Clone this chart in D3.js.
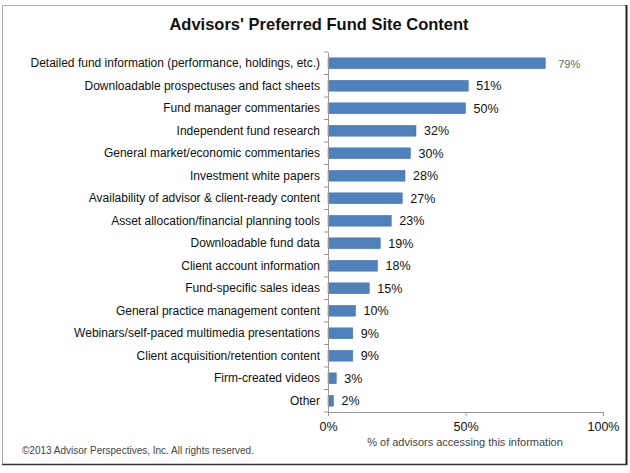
<!DOCTYPE html>
<html><head><meta charset="utf-8">
<script src="https://cdn.jsdelivr.net/npm/d3@7"></script>
<style>body{margin:0;background:#fff;}svg{display:block;font-family:"Liberation Sans",Arial,sans-serif;}</style>
</head><body>
<script>
const categories = [
  "Detailed fund information (performance, holdings, etc.)",
  "Downloadable prospectuses and fact sheets",
  "Fund manager commentaries",
  "Independent fund research",
  "General market/economic commentaries",
  "Investment white papers",
  "Availability of advisor & client-ready content",
  "Asset allocation/financial planning tools",
  "Downloadable fund data",
  "Client account information",
  "Fund-specific sales ideas",
  "General practice management content",
  "Webinars/self-paced multimedia presentations",
  "Client acquisition/retention content",
  "Firm-created videos",
  "Other"
];
const values = [79, 51, 50, 32, 30, 28, 27, 23, 19, 18, 15, 10, 9, 9, 3, 2];
const tickValues = [0, 50, 100];
const tickLabels = ["0%", "50%", "100%"];

const W = 630, H = 473;
const svg = d3.select("body").append("svg").attr("width", W).attr("height", H);

// frame
svg.append("rect").attr("x", 2.5).attr("y", 5.5).attr("width", 624).attr("height", 459)
  .attr("fill", "#fff").attr("stroke", "#555").attr("stroke-width", 1).attr("stroke-dasharray", "1,1");
svg.append("line").attr("x1", 626.5).attr("x2", 626.5).attr("y1", 5).attr("y2", 465).attr("stroke", "#222").attr("stroke-width", 2);
svg.append("line").attr("x1", 2).attr("x2", 627).attr("y1", 464.5).attr("y2", 464.5).attr("stroke", "#333").attr("stroke-width", 1.5);

svg.append("text").attr("x", 319).attr("y", 30).attr("text-anchor", "middle")
  .attr("font-size", 16.5).attr("font-weight", "bold").attr("fill", "#111")
  .text("Advisors' Preferred Fund Site Content");

const x = d3.scaleLinear().domain([0, 100]).range([328, 603]);
const y = d3.scaleBand().domain(categories).range([52, 412]).paddingInner(0.52).paddingOuter(0.26);

// bars
svg.append("g").selectAll("rect").data(values).join("rect")
  .attr("x", x(0)).attr("y", (d, i) => y(categories[i]))
  .attr("width", d => x(d) - x(0)).attr("height", y.bandwidth())
  .attr("fill", "#4f81bd").attr("stroke", "#3f6fa8").attr("stroke-width", 0.5);

// value labels
svg.append("g").selectAll("text").data(values).join("text")
  .attr("x", d => x(d) + (d === 79 ? 13 : 8))
  .attr("y", (d, i) => y(categories[i]) + y.bandwidth() / 2 + 4.5)
  .attr("font-size", d => d === 79 ? 11 : 12.5)
  .attr("fill", d => d === 79 ? "#666" : "#111")
  .text(d => d + "%");

// category axis
const yAxis = d3.axisLeft(y).tickSize(0).tickPadding(8);
const gy = svg.append("g").attr("transform", `translate(${x(0)},0)`).call(yAxis);
gy.select(".domain").attr("stroke", "#999");
gy.selectAll("text").attr("font-size", 12).attr("fill", "#111").attr("font-family", "Liberation Sans, Arial, sans-serif");
// category boundary ticks
const step = y.step();
const bounds = d3.range(categories.length + 1).map(i => 52 + i * (360 / categories.length));
svg.append("g").selectAll("line").data(bounds).join("line")
  .attr("x1", x(0) - 4).attr("x2", x(0)).attr("y1", d => d).attr("y2", d => d)
  .attr("stroke", "#999");

// value axis
const xAxis = d3.axisBottom(x).tickValues(tickValues).tickSize(4).tickFormat((d, i) => tickLabels[i]).tickPadding(6);
const gx = svg.append("g").attr("transform", "translate(0,412)").call(xAxis);
gx.select(".domain").attr("stroke", "#999");
gx.selectAll(".tick line").attr("stroke", "#999");
gx.selectAll("text").attr("font-size", 12.5).attr("fill", "#111").attr("font-family", "Liberation Sans, Arial, sans-serif");

svg.append("text").attr("x", 465).attr("y", 446).attr("text-anchor", "middle")
  .attr("font-size", 11).attr("fill", "#444").text("% of advisors accessing this information");

svg.append("text").attr("x", 22).attr("y", 454)
  .attr("font-size", 10).attr("fill", "#444").text("\u00a92013 Advisor Perspectives, Inc. All rights reserved.");
</script>
</body></html>
